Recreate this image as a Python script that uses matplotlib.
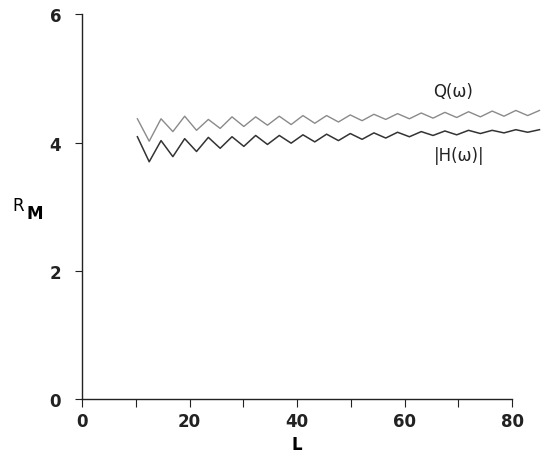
import matplotlib.pyplot as plt

# filter length L (zigzag turning points) and the two ratios
L = [10.3, 12.5, 14.7, 16.9, 19.1, 21.3, 23.5, 25.7, 27.9, 30.1, 32.3, 34.5,
     36.7, 38.9, 41.1, 43.3, 45.5, 47.7, 49.9, 52.1, 54.3, 56.5, 58.7, 60.9,
     63.1, 65.3, 67.5, 69.7, 71.9, 74.1, 76.3, 78.5, 80.7, 82.9, 85.1]
Q = [4.37, 4.02, 4.37, 4.17, 4.41, 4.19, 4.36, 4.22, 4.40, 4.25, 4.40, 4.27,
     4.41, 4.28, 4.42, 4.30, 4.42, 4.32, 4.43, 4.34, 4.44, 4.36, 4.45, 4.37,
     4.46, 4.38, 4.47, 4.39, 4.48, 4.40, 4.49, 4.41, 4.50, 4.42, 4.50]
H = [4.09, 3.70, 4.03, 3.78, 4.06, 3.86, 4.08, 3.91, 4.09, 3.94, 4.11, 3.97,
     4.11, 3.99, 4.12, 4.01, 4.13, 4.03, 4.14, 4.05, 4.15, 4.07, 4.16, 4.09,
     4.17, 4.11, 4.18, 4.12, 4.19, 4.14, 4.19, 4.15, 4.20, 4.16, 4.20]

x_ticks = [0, 10, 20, 30, 40, 50, 60, 70, 80]
x_labels = ['0', '', '20', '', '40', '', '60', '', '80']
y_ticks = [0, 2, 4, 6]

plt.rcParams['font.family'] = 'DejaVu Sans'
fig = plt.figure(figsize=(5.56, 4.60), dpi=100)
ax = fig.add_axes([0.1475, 0.130, 0.7735, 0.837])

ax.plot(L, Q, color='#8a8a8a', lw=1.0, clip_on=False)
ax.plot(L, H, color='#333333', lw=1.1, clip_on=False)

ax.text(69, 4.8, 'Q(ω)', fontsize=12, ha='center', va='center', color='#222222')
ax.text(70.2, 3.8, '|H(ω)|', fontsize=12, ha='center', va='center', color='#222222')

ax.set_xlim(0, 80)
ax.set_ylim(0, 6)
for s in ['top', 'right']:
    ax.spines[s].set_visible(False)
for s in ['left', 'bottom']:
    ax.spines[s].set_linewidth(1.0)
    ax.spines[s].set_color('#222222')

ax.set_xticks(x_ticks)
ax.set_xticklabels(x_labels, fontsize=12, fontweight='bold')
ax.set_yticks(y_ticks)
ax.set_yticklabels([str(v) for v in y_ticks], fontsize=12, fontweight='bold')
ax.tick_params(axis='x', direction='out', length=6, pad=3, colors='#222222')
ax.tick_params(axis='y', direction='out', length=5, pad=10, colors='#222222')

ax.set_xlabel('L', fontsize=12, fontweight='bold', labelpad=4)
fig.text(0.023, 0.553, 'R', fontsize=12, ha='left', va='center')
fig.text(0.047, 0.535, 'M', fontsize=12, fontweight='bold', ha='left', va='center')

fig.savefig('out.png', dpi=100, facecolor='white')
